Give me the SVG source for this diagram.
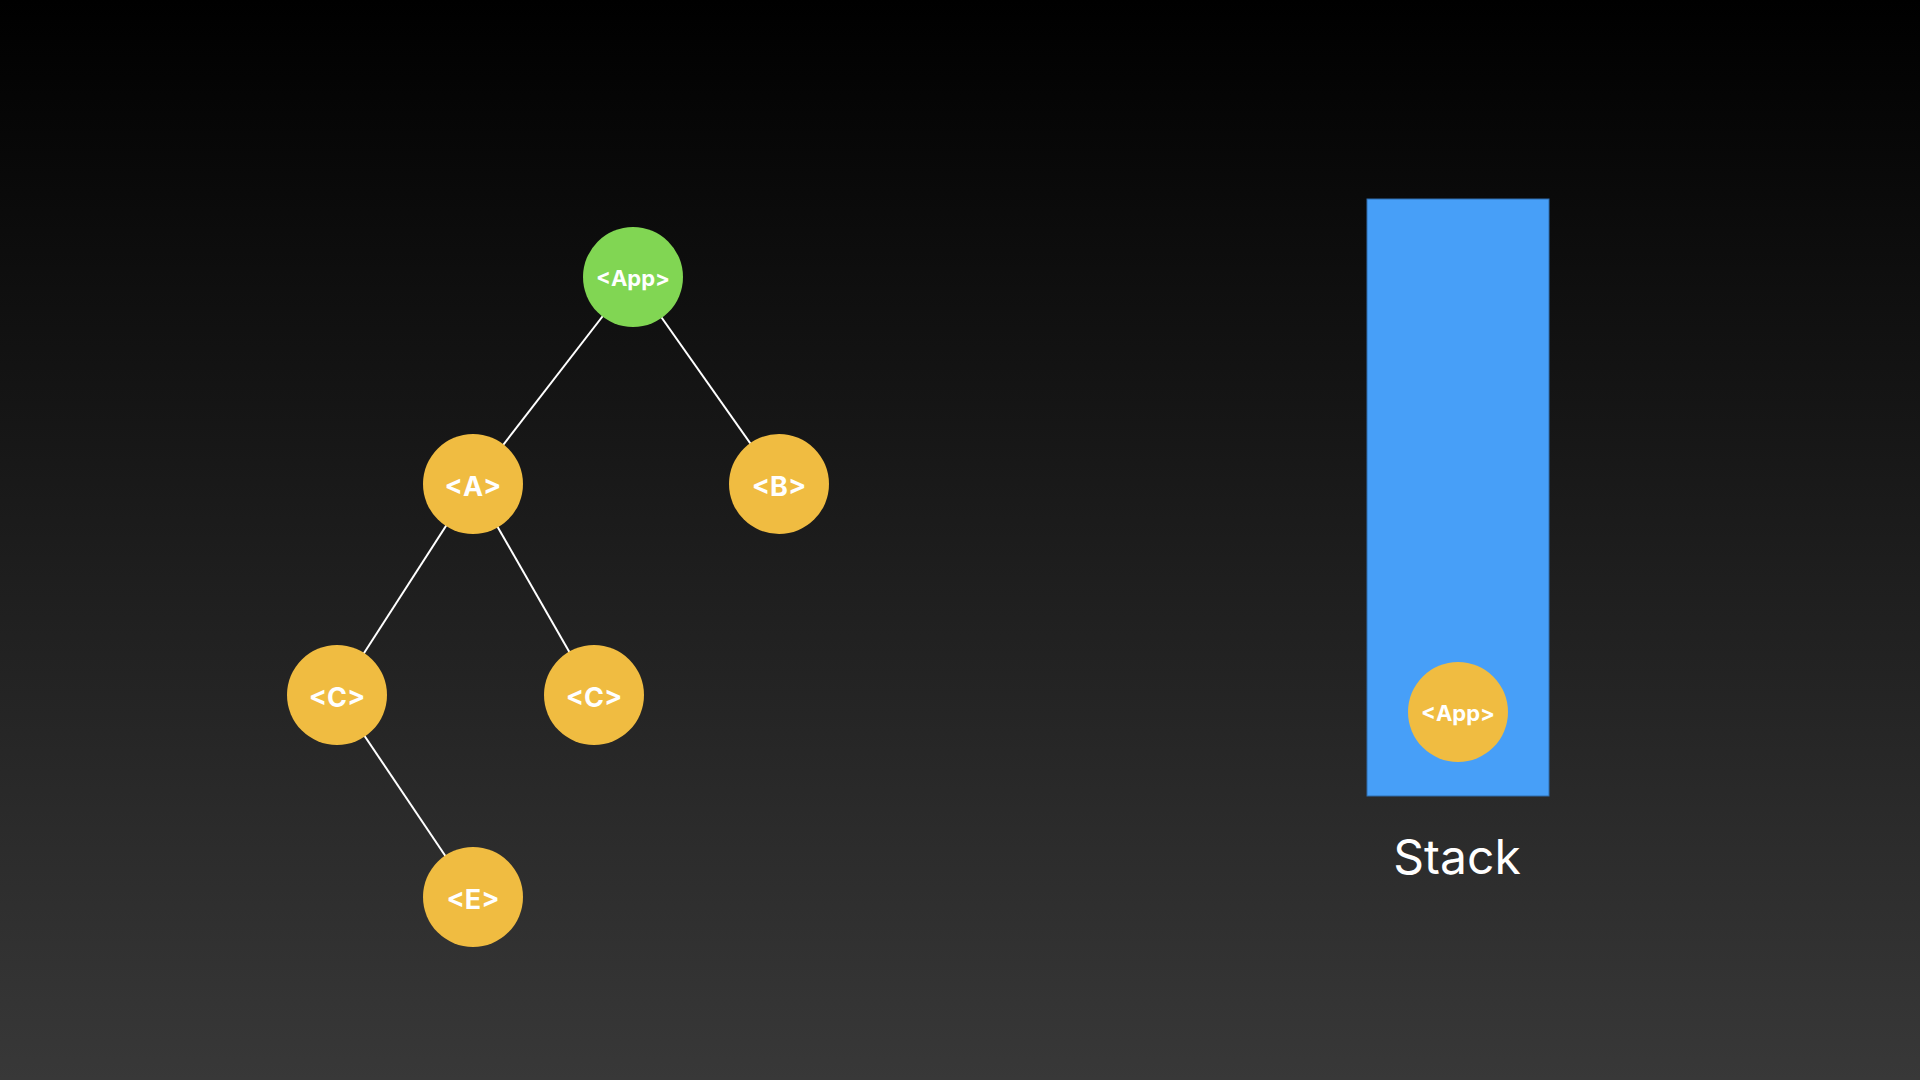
<svg xmlns="http://www.w3.org/2000/svg" width="1920" height="1080" viewBox="0 0 1920 1080">
<defs>
<linearGradient id="bg" x1="0" y1="0" x2="0" y2="1">
<stop offset="0" stop-color="#000000"/>
<stop offset="1" stop-color="#383838"/>
</linearGradient>
<style>
.edge{stroke:#ffffff;stroke-width:2;fill:none}
.yellow{fill:#F0BC41}
.green{fill:#81D653}
.lbl{fill:#ffffff;font-family:Inter,"Open Sans","Liberation Sans",sans-serif;font-weight:700;text-anchor:middle;dominant-baseline:central}
</style>
</defs>
<rect width="1920" height="1080" fill="url(#bg)"/>
<g id="connectors">
<line class="edge" x1="633" y1="277" x2="473" y2="484"/>
<line class="edge" x1="633" y1="277" x2="779" y2="484"/>
<line class="edge" x1="473" y1="484" x2="337" y2="695"/>
<line class="edge" x1="473" y1="484" x2="594" y2="695"/>
<line class="edge" x1="337" y1="695" x2="473" y2="897"/>
</g>
<g id="node-app">
<circle class="green" cx="633" cy="277" r="50"/>
<text class="lbl" x="633" y="278" font-size="22">&lt;App&gt;</text>
</g>
<g id="node-a">
<circle class="yellow" cx="473" cy="484" r="50"/>
<text class="lbl" x="473" y="486" font-size="27">&lt;A&gt;</text>
</g>
<g id="node-b">
<circle class="yellow" cx="779" cy="484" r="50"/>
<text class="lbl" x="779" y="486" font-size="27">&lt;B&gt;</text>
</g>
<g id="node-c1">
<circle class="yellow" cx="337" cy="695" r="50"/>
<text class="lbl" x="337" y="697" font-size="27">&lt;C&gt;</text>
</g>
<g id="node-c2">
<circle class="yellow" cx="594" cy="695" r="50"/>
<text class="lbl" x="594" y="697" font-size="27">&lt;C&gt;</text>
</g>
<g id="node-e">
<circle class="yellow" cx="473" cy="897" r="50"/>
<text class="lbl" x="473" y="899" font-size="27">&lt;E&gt;</text>
</g>
<g id="stack">
<rect x="1367" y="199" width="182" height="597" fill="#479FF8" stroke="#2F6DAE" stroke-width="1"/>
<g id="stack-app">
<circle class="yellow" cx="1458" cy="712" r="50"/>
<text class="lbl" x="1458" y="713" font-size="22">&lt;App&gt;</text>
</g>
<text x="1457" y="874" font-family="Inter,'Open Sans','Liberation Sans',sans-serif" font-size="48" fill="#ffffff" text-anchor="middle">Stack</text>
</g>
</svg>
